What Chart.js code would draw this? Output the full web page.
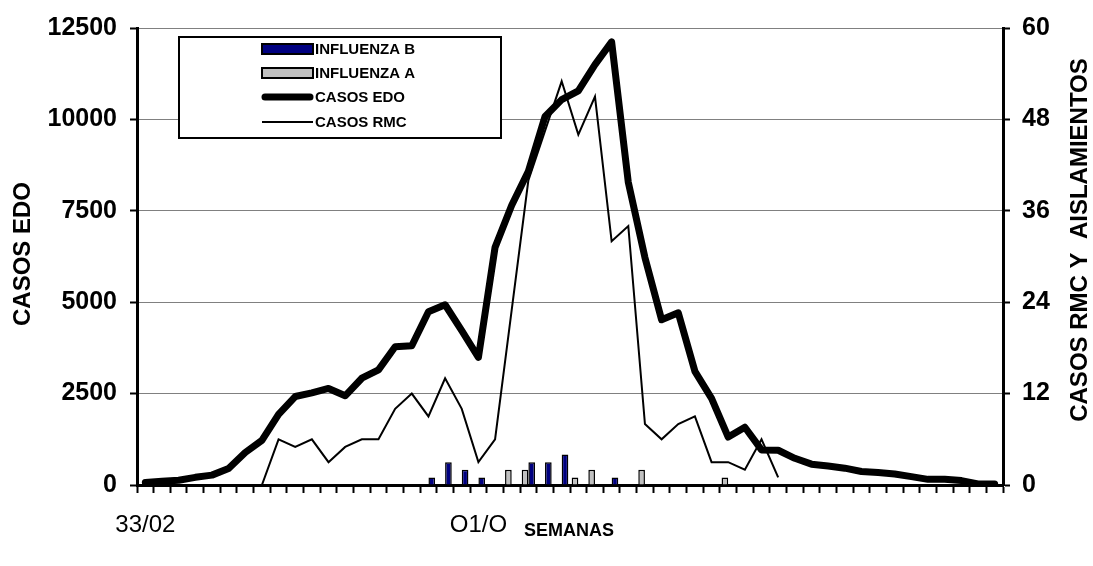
<!DOCTYPE html>
<html>
<head>
<meta charset="utf-8">
<script src="https://cdn.jsdelivr.net/npm/chart.js@4/dist/chart.umd.min.js"></script>
<style>
  html, body { margin: 0; padding: 0; background: #fff; }
  #wrap { width: 1093px; height: 566px; position: relative; }
</style>
</head>
<body>
<div id="wrap"><canvas id="c" width="1093" height="566"></canvas></div>
<script>
// ---- DATA ----
const weeks = ['33/02','34/02','35/02','36/02','37/02','38/02','39/02','40/02','41/02','42/02',
  '43/02','44/02','45/02','46/02','47/02','48/02','49/02','50/02','51/02','52/02',
  'O1/O','02/03','03/03','04/03','05/03','06/03','07/03','08/03','09/03','10/03',
  '11/03','12/03','13/03','14/03','15/03','16/03','17/03','18/03','19/03','20/03',
  '21/03','22/03','23/03','24/03','25/03','26/03','27/03','28/03','29/03','30/03',
  '31/03','32/03'];
const shownWeekLabels = ['33/02', 'O1/O'];

const influenzaB = [null,null,null,null,null,null,null,null,null,null,
  null,null,null,null,null,null,null,1,3,2,
  1,null,null,3,3,4,null,null,1,null,
  null,null,null,null,null,null,null,null,null,null,
  null,null,null,null,null,null,null,null,null,null,
  null,null];
const influenzaA = [null,null,null,null,null,null,null,null,null,null,
  null,null,null,null,null,null,null,null,null,null,
  null,null,2,2,null,null,1,2,null,null,
  2,null,null,null,null,1,null,null,null,null,
  null,null,null,null,null,null,null,null,null,null,
  null,null];
const casosEDO = [70,100,130,210,270,450,890,1220,1930,2420,
  2520,2640,2440,2920,3150,3780,3810,4740,4930,4220,
  3490,6500,7650,8580,10080,10540,10780,11500,12120,8280,
  6220,4520,4710,3110,2370,1310,1580,960,950,730,
  570,520,460,370,340,300,230,155,155,120,
  30,30];
const casosRMC = [null,null,null,null,null,null,null,0,6,5,
  6,3,5,6,6,10,12,9,14,10,
  3,6,23,40,46.5,53,46,51,32,34,
  8,6,8,9,3,3,2,6,1,null,
  null,null,null,null,null,null,null,null,null,null,
  null,null];

const leftTicks = [0, 2500, 5000, 7500, 10000, 12500];
const rightTicks = [0, 12, 24, 36, 48, 60];

const seriesNames = ['INFLUENZA B', 'INFLUENZA A', 'CASOS EDO', 'CASOS RMC'];
const leftTitle = 'CASOS EDO';
const rightTitle = 'CASOS RMC Y  AISLAMIENTOS';
const xTitle = 'SEMANAS';

// ---- CHART ----
const FONT = '"Liberation Sans", Arial, Helvetica, sans-serif';

const overlayPlugin = {
  id: 'overlay',
  afterDraw(chart) {
    const ctx = chart.ctx;
    ctx.save();
    ctx.fillStyle = '#000';
    ctx.font = 'bold 24px ' + FONT;
    ctx.textAlign = 'center';
    ctx.textBaseline = 'middle';
    ctx.save();
    ctx.translate(23, 254);
    ctx.rotate(-Math.PI / 2);
    ctx.fillText(leftTitle, 0, 0);
    ctx.restore();
    ctx.save();
    ctx.translate(1080, 240);
    ctx.rotate(-Math.PI / 2);
    ctx.fillText(rightTitle, 0, 0);
    ctx.restore();
    ctx.font = 'bold 18px ' + FONT;
    ctx.fillText(xTitle, 569, 531);

    // legend
    const bx = 179, by = 37, bw = 322, bh = 101;
    ctx.fillStyle = '#fff';
    ctx.fillRect(bx, by, bw, bh);
    ctx.lineWidth = 2;
    ctx.strokeStyle = '#000';
    ctx.strokeRect(bx, by, bw, bh);
    const rows = [49, 73, 97, 122];
    const sx0 = 262, sx1 = 313;
    chart.data.datasets.forEach((ds, i) => {
      const y = rows[i];
      if (ds.type === 'bar') {
        ctx.fillStyle = ds.backgroundColor;
        ctx.fillRect(sx0, y - 5, sx1 - sx0, 10);
        ctx.lineWidth = 2;
        ctx.strokeStyle = '#000';
        ctx.strokeRect(sx0, y - 5, sx1 - sx0, 10);
      } else {
        const thick = ds.borderWidth > 3;
        ctx.beginPath();
        ctx.lineWidth = ds.borderWidth;
        ctx.lineCap = thick ? 'round' : 'butt';
        ctx.strokeStyle = ds.borderColor;
        ctx.moveTo(sx0 + (thick ? 3 : 0), y);
        ctx.lineTo(sx1 - (thick ? 3 : 0), y);
        ctx.stroke();
      }
      ctx.fillStyle = '#000';
      ctx.font = 'bold 15px ' + FONT;
      ctx.textAlign = 'left';
      ctx.textBaseline = 'middle';
      ctx.fillText(ds.label, 315, y + 1);
    });
    ctx.restore();
  }
};

new Chart(document.getElementById('c'), {
  data: {
    labels: weeks,
    datasets: [
      { type: 'bar', label: seriesNames[0], data: influenzaB, yAxisID: 'y1',
        backgroundColor: '#000080', borderColor: '#000', borderWidth: 1.5,
        categoryPercentage: 0.8, barPercentage: 1, order: 3 },
      { type: 'bar', label: seriesNames[1], data: influenzaA, yAxisID: 'y1',
        backgroundColor: '#c0c0c0', borderColor: '#000', borderWidth: 1.5,
        categoryPercentage: 0.8, barPercentage: 1, order: 2 },
      { type: 'line', label: seriesNames[2], data: casosEDO, yAxisID: 'y',
        borderColor: '#000', borderWidth: 7, pointRadius: 0, tension: 0,
        borderJoinStyle: 'round', borderCapStyle: 'round', fill: false, order: 1 },
      { type: 'line', label: seriesNames[3], data: casosRMC, yAxisID: 'y1',
        borderColor: '#000', borderWidth: 2, pointRadius: 0, tension: 0,
        spanGaps: false, fill: false, order: 0 }
    ]
  },
  options: {
    responsive: false,
    animation: false,
    devicePixelRatio: 1,
    layout: { padding: { top: 23, left: 0, right: 0, bottom: 0 } },
    plugins: { legend: { display: false }, tooltip: { enabled: false } },
    scales: {
      x: {
        type: 'category',
        offset: true,
        grid: { display: true, drawOnChartArea: false, drawTicks: true, tickLength: 8,
                offset: true, tickColor: '#000', tickWidth: 2, color: '#000' },
        border: { display: true, color: '#000', width: 3 },
        ticks: {
          autoSkip: false, maxRotation: 0, minRotation: 0, padding: 18,
          color: '#000', font: { family: FONT, size: 24 },
          callback: function(v, i) {
            const l = weeks[i];
            return shownWeekLabels.includes(l) ? l : '';
          }
        },
        afterFit(scale) { scale.height = 81; }
      },
      y: {
        position: 'left', min: 0, max: 12500,
        afterBuildTicks(scale) { scale.ticks = leftTicks.map(v => ({ value: v })); },
        grid: { color: '#808080', lineWidth: 1, drawTicks: true, tickLength: 7,
                tickColor: '#000', tickWidth: 2 },
        border: { display: true, color: '#000', width: 3 },
        ticks: { padding: 13, color: '#000', font: { family: FONT, size: 25, weight: 'bold' },
                 callback: v => String(v) },
        afterFit(scale) { scale.width = 137; }
      },
      y1: {
        position: 'right', min: 0, max: 60,
        afterBuildTicks(scale) { scale.ticks = rightTicks.map(v => ({ value: v })); },
        grid: { drawOnChartArea: false, drawTicks: true, tickLength: 7,
                tickColor: '#000', tickWidth: 2 },
        border: { display: true, color: '#000', width: 3 },
        ticks: { padding: 12, color: '#000', font: { family: FONT, size: 25, weight: 'bold' },
                 callback: v => String(v) },
        afterFit(scale) { scale.width = 90; }
      }
    }
  },
  plugins: [overlayPlugin]
});
</script>
</body>
</html>
